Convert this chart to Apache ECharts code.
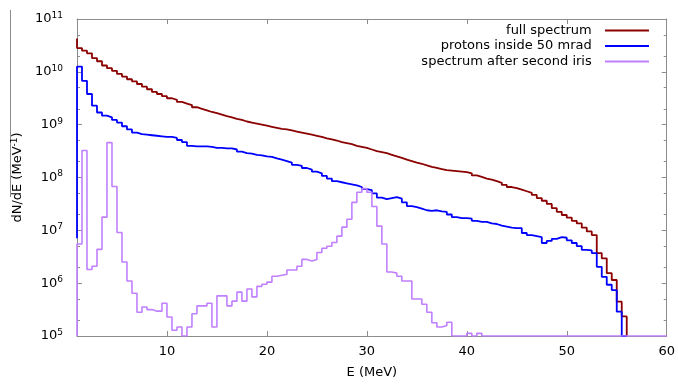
<!DOCTYPE html>
<html><head><meta charset="utf-8">
<script src="https://cdn.jsdelivr.net/npm/echarts@6/dist/echarts.min.js"></script>
<style>html,body{margin:0;padding:0;background:#fff}#c{width:678px;height:384px}</style>
</head><body><div id="c"></div><script>
// ---- data (values are log10 of dN/dE; 0.5 MeV bins starting at 1 MeV) ----
const seriesNames = ['full spectrum', 'protons inside 50 mrad', 'spectrum after second iris'];
const seriesColors = ['#8b0000', '#0000ff', '#c080ff'];
const binStartMeV = 1.0;
const binWidthMeV = 0.5;
const xMin = 1, xMax = 60;
const floorValue = 1e5;
const xTickValues = [10, 20, 30, 40, 50, 60];
const yDecades = [5, 6, 7, 8, 9, 10, 11];

const fullLeadLog10 = 10.63;
const fullLog10 = [
  10.45, 10.40, 10.35, 10.26, 10.20, 10.12, 10.07, 10.02, 9.96, 9.91,
  9.86, 9.82, 9.77, 9.72, 9.67, 9.62, 9.58, 9.54, 9.50, 9.47,
  9.43, 9.40, 9.37, 9.33, 9.30, 9.27, 9.24, 9.22, 9.19, 9.16,
  9.14, 9.11, 9.09, 9.06, 9.04, 9.02, 9.00, 8.98, 8.96, 8.94,
  8.92, 8.91, 8.89, 8.87, 8.85, 8.83, 8.81, 8.79, 8.77, 8.74,
  8.72, 8.70, 8.67, 8.65, 8.63, 8.60, 8.58, 8.56, 8.53, 8.50,
  8.48, 8.46, 8.43, 8.40, 8.37, 8.34, 8.31, 8.28, 8.26, 8.23,
  8.20, 8.18, 8.16, 8.14, 8.13, 8.12, 8.11, 8.10, 8.08, 8.04,
  8.01, 7.98, 7.96, 7.93, 7.90, 7.86, 7.82, 7.80, 7.77, 7.74,
  7.71, 7.67, 7.61, 7.56, 7.50, 7.42, 7.35, 7.29, 7.24, 7.18,
  7.13, 7.05, 6.98, 6.91, 6.57, 6.47, 6.19, 6.06, 5.65, 5.37
];

const protonsLeadLog10 = 6.85;
const protonsLog10 = [
  10.10, 9.83, 9.58, 9.36, 9.23, 9.17, 9.14, 9.09, 9.04, 8.97,
  8.91, 8.85, 8.82, 8.81, 8.80, 8.79, 8.78, 8.77, 8.77, 8.75,
  8.71, 8.67, 8.60, 8.59, 8.59, 8.59, 8.58, 8.56, 8.56, 8.55,
  8.55, 8.53, 8.49, 8.46, 8.45, 8.43, 8.42, 8.40, 8.39, 8.36,
  8.34, 8.31, 8.28, 8.24, 8.22, 8.18, 8.15, 8.11, 8.08, 8.03,
  7.98, 7.93, 7.91, 7.89, 7.87, 7.85, 7.82, 7.78, 7.76, 7.70,
  7.62, 7.59, 7.61, 7.63, 7.60, 7.53, 7.46, 7.44, 7.41, 7.38,
  7.37, 7.38, 7.36, 7.35, 7.30, 7.25, 7.23, 7.23, 7.22, 7.18,
  7.16, 7.16, 7.13, 7.12, 7.09, 7.07, 7.05, 7.04, 7.04, 6.95,
  6.91, 6.89, 6.87, 6.76, 6.80, 6.84, 6.87, 6.86, 6.81, 6.76,
  6.70, 6.63, 6.62, 6.57, 6.31, 6.12, 5.97, 5.87, 5.46
];

const irisLeadLog10 = 5.0;
const irisLog10 = [
  6.74, 8.51, 6.26, 6.32, 6.64, 7.25, 8.66, 7.83, 6.96, 6.40,
  6.04, 5.81, 5.45, 5.55, 5.50, 5.47, 5.47, 5.62, 5.36, 5.11,
  5.17, 5.00, 5.17, 5.42, 5.57, 5.57, 5.62, 5.17, 5.76, 5.76,
  5.57, 5.66, 5.83, 5.66, 5.89, 5.74, 5.94, 5.98, 6.02, 6.13,
  6.15, 6.17, 6.25, 6.25, 6.32, 6.45, 6.42, 6.45, 6.58, 6.66,
  6.70, 6.77, 6.89, 7.06, 7.21, 7.53, 7.72, 7.79, 7.72, 7.45,
  7.08, 6.74, 6.21, 6.19, 6.13, 6.04, 6.04, 5.70, 5.70, 5.60,
  5.45, 5.25, 5.17, 5.20, 5.26, 5.00, 5.00, 5.00, 5.05, 5.00,
  5.05, 5.00
];

// ---- build step-histogram point lists ----
function stepData(leadLog, logs, extraEdges) {
  const pts = [[binStartMeV, Math.pow(10, leadLog)]];
  logs.forEach(function (v, i) { pts.push([binStartMeV + i * binWidthMeV, Math.pow(10, v)]); });
  pts.push([binStartMeV + logs.length * binWidthMeV, floorValue]);
  extraEdges.forEach(function (e) { pts.push([e, floorValue]); });
  return pts;
}
const fullData = stepData(fullLeadLog10, fullLog10, []);
const protonsData = stepData(protonsLeadLog10, protonsLog10, [56]);
const irisData = stepData(irisLeadLog10, irisLog10, [xMax]);

const FONT = 'DejaVu Sans';
const frameColor = '#8c8c8c';
const minorLogTicks = [];
yDecades.forEach(function (d) { if (d < 11) { minorLogTicks.push(d + Math.log10(2), d + Math.log10(5)); } });

const chart = echarts.init(document.getElementById('c'), null, { renderer: 'canvas' });

function legendFor(i, top) {
  return {
    data: [seriesNames[i]], right: 29, top: top, orient: 'vertical', align: 'right',
    padding: 0, itemWidth: 44, itemHeight: 2, icon: 'rect', selectedMode: false,
    formatter: function (n) { return n + '  '; },
    textStyle: { fontFamily: FONT, fontSize: 13, color: '#000' }
  };
}

const option = {
  animation: false,
  backgroundColor: '#fff',
  grid: { left: 77, right: 10, top: 19, bottom: 48, containLabel: false },
  legend: [legendFor(0, 24), legendFor(1, 39.5), legendFor(2, 55)],
  graphic: [{ type: 'line', shape: { x1: 10.5, y1: 10, x2: 10.5, y2: 197 }, style: { stroke: '#8c8c8c', lineWidth: 1 } }],
  xAxis: [{
    type: 'value', min: xMin, max: xMax, position: 'bottom',
    name: 'E (MeV)', nameLocation: 'middle', nameGap: 30,
    nameTextStyle: { fontFamily: FONT, fontSize: 13, color: '#000' },
    axisLine: { show: true, lineStyle: { color: frameColor, width: 1 } },
    axisTick: { show: true, inside: true, length: 5, customValues: xTickValues, lineStyle: { color: frameColor } },
    axisLabel: { show: true, customValues: xTickValues, margin: 9, fontFamily: FONT, fontSize: 13, color: '#000' },
    splitLine: { show: false }
  }, {
    type: 'value', min: xMin, max: xMax, position: 'top',
    axisLine: { show: true, lineStyle: { color: frameColor, width: 1 } },
    axisTick: { show: true, inside: true, length: 5, customValues: xTickValues, lineStyle: { color: frameColor } },
    axisLabel: { show: false }, splitLine: { show: false }
  }],
  yAxis: [{
    type: 'log', logBase: 10, min: Math.pow(10, yDecades[0]), max: Math.pow(10, yDecades[yDecades.length - 1]),
    position: 'left', splitNumber: 6,
    name: '{n|dN/dE (MeV}{s|-1}{n|)}', nameLocation: 'middle', nameGap: 52, nameRotate: 90,
    nameTextStyle: { rich: { n: { fontFamily: FONT, fontSize: 13, color: '#000' }, s: { fontFamily: FONT, fontSize: 9, color: '#000', verticalAlign: 'top', padding: [0, 0, 6, 0] } } },
    axisLine: { show: true, lineStyle: { color: frameColor, width: 1 } },
    axisTick: { show: true, inside: true, length: 5, lineStyle: { color: frameColor } },
    axisLabel: {
      margin: 14, color: '#000',
      formatter: function (v) { return '{b|10}{e|' + Math.round(Math.log10(v)) + '}'; },
      rich: { b: { fontFamily: FONT, fontSize: 13, color: '#000' }, e: { fontFamily: FONT, fontSize: 9, color: '#000', padding: [0, 0, 7, 0] } }
    },
    splitLine: { show: false }
  }, {
    type: 'value', min: yDecades[0], max: yDecades[yDecades.length - 1], position: 'left',
    axisLine: { show: false },
    axisTick: { show: true, inside: true, length: 3, customValues: minorLogTicks, lineStyle: { color: frameColor } },
    axisLabel: { show: false }, splitLine: { show: false }
  }, {
    type: 'value', min: yDecades[0], max: yDecades[yDecades.length - 1], position: 'right',
    axisLine: { show: true, lineStyle: { color: frameColor, width: 1 } },
    axisTick: { show: true, inside: true, length: 5, customValues: yDecades, lineStyle: { color: frameColor } },
    axisLabel: { show: false }, splitLine: { show: false }
  }, {
    type: 'value', min: yDecades[0], max: yDecades[yDecades.length - 1], position: 'right',
    axisLine: { show: false },
    axisTick: { show: true, inside: true, length: 3, customValues: minorLogTicks, lineStyle: { color: frameColor } },
    axisLabel: { show: false }, splitLine: { show: false }
  }],
  series: [
    { name: seriesNames[0], type: 'line', step: 'end', data: fullData, showSymbol: false, xAxisIndex: 0, yAxisIndex: 0,
      lineStyle: { color: seriesColors[0], width: 1.8 }, itemStyle: { color: seriesColors[0] } },
    { name: seriesNames[1], type: 'line', step: 'end', data: protonsData, showSymbol: false, xAxisIndex: 0, yAxisIndex: 0,
      lineStyle: { color: seriesColors[1], width: 1.8 }, itemStyle: { color: seriesColors[1] } },
    { name: seriesNames[2], type: 'line', step: 'end', data: irisData, showSymbol: false, xAxisIndex: 0, yAxisIndex: 0,
      lineStyle: { color: seriesColors[2], width: 1.6 }, itemStyle: { color: seriesColors[2] } }
  ]
};
chart.setOption(option);
</script></body></html>
